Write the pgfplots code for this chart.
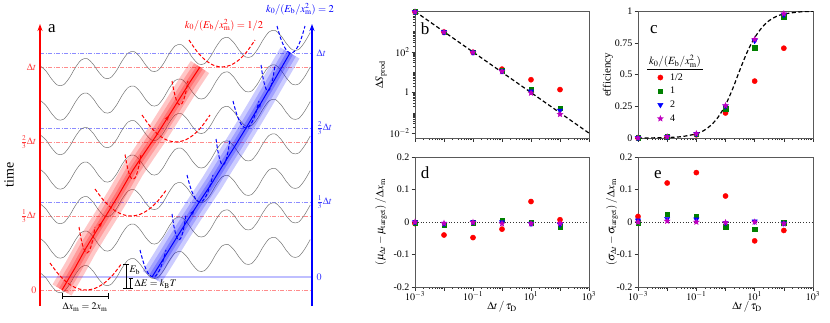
\documentclass[border=0pt]{standalone}
\usepackage{pgfplots}
\pgfplotsset{compat=1.18}
\usepackage{pgfplotstable}
\usepackage{mathptmx}
\usepackage{fontspec}
\setmainfont{Liberation Serif}
\usetikzlibrary{decorations.markings,arrows.meta,plotmarks}

\definecolor{mred}{rgb}{1,0,0}
\definecolor{mgreen}{rgb}{0,0.5,0}
\definecolor{mblue}{rgb}{0,0,1}
\definecolor{mmag}{rgb}{0.75,0,0.75}

% filled five-point star
\pgfdeclareplotmark{fstar}{%
  \pgfpathmoveto{\pgfpointpolar{90}{\pgfplotmarksize}}%
  \pgfpathlineto{\pgfpointpolar{126}{0.45\pgfplotmarksize}}%
  \pgfpathlineto{\pgfpointpolar{162}{\pgfplotmarksize}}%
  \pgfpathlineto{\pgfpointpolar{198}{0.45\pgfplotmarksize}}%
  \pgfpathlineto{\pgfpointpolar{234}{\pgfplotmarksize}}%
  \pgfpathlineto{\pgfpointpolar{270}{0.45\pgfplotmarksize}}%
  \pgfpathlineto{\pgfpointpolar{306}{\pgfplotmarksize}}%
  \pgfpathlineto{\pgfpointpolar{342}{0.45\pgfplotmarksize}}%
  \pgfpathlineto{\pgfpointpolar{18}{\pgfplotmarksize}}%
  \pgfpathlineto{\pgfpointpolar{54}{0.45\pgfplotmarksize}}%
  \pgfpathclose\pgfusepathqfill}

% one row of the landscape (x, offset from row baseline)
\pgfplotstableread{
x y
40 -11.34
45.875 -6.12
51.75 2.18
57.625 8.16
63.5 7.82
69.375 0.83
75.25 -9.23
81.125 -16.97
87 -18.39
92.875 -13.17
98.75 -4.87
104.625 1.11
110.5 0.77
116.375 -6.21
122.25 -16.27
128.125 -24.02
134 -25.44
139.875 -20.22
145.75 -11.92
151.625 -5.94
157.5 -6.28
163.375 -13.26
169.25 -23.32
175.125 -31.06
181 -32.48
186.875 -27.27
192.75 -18.97
198.625 -12.99
204.5 -13.33
210.375 -20.31
216.25 -30.37
222.125 -38.11
228 -39.53
233.875 -34.31
239.75 -26.01
245.625 -20.04
251.5 -20.38
257.375 -27.36
263.25 -37.42
269.125 -45.16
275 -46.58
280.875 -41.36
286.75 -33.06
292.625 -27.08
298.5 -27.42
304.375 -34.40
310.25 -44.46
}\wave

% trap shape (unit)
\pgfplotstableread{
u v
-1 1
-0.75 0.5625
-0.5 0.25
-0.25 0.0625
0 0
0.25 0.0625
0.5 0.25
0.75 0.5625
1 1
}\para

% mean paths
\pgfplotstableread{
x y
62 290
75 268
86 248
97 230
107 214
118 196
133 170
145 152
156 136
168 117
180 98
190 82
200 67
}\redpath
\pgfplotstableread{
x y
152 277
164 258
177 237
189 218
200 201
212 183
223 165
235 146
246 128
258 108
268 91
279 72
290 53
}\bluepath

\pgfplotsset{
  mr/.style={only marks, mark=*, mark size=2.6pt, color=mred},
  mg/.style={only marks, mark=square*, mark size=2.3pt, color=mgreen},
  mb/.style={only marks, mark=triangle*, mark size=3pt, color=mblue, mark options={rotate=180}},
  mm/.style={only marks, mark=fstar, mark size=3.6pt, color=mmag},
  trap/.style={dash pattern=on 3.5pt off 2pt, line width=1pt, smooth},
  band/.style={line cap=butt, line join=round},
}

\begin{document}
\begin{tikzpicture}
\path[use as bounding box] (0,0) rectangle (830pt,322pt);

% ---------------- panel a ----------------
\begin{axis}[at={(0pt,0pt)}, anchor=south west, scale only axis,
  width=330pt, height=322pt, xmin=0, xmax=330, ymin=0, ymax=322,
  y dir=reverse, axis lines=none, clip=false]
% time levels
\pgfplotsinvokeforeach{67,142,216,290}{
  \addplot[red!45, dash pattern=on 4pt off 1.5pt on 1pt off 1.5pt, line width=0.6pt] coordinates {(40,#1) (312,#1)};
}
\pgfplotsinvokeforeach{53,128,202}{
  \addplot[blue!45, dash pattern=on 4pt off 1.5pt on 1pt off 1.5pt, line width=0.6pt] coordinates {(40,#1) (312,#1)};
}
\addplot[blue!25, line width=1.8pt] coordinates {(40,277) (312,277)};
% landscape rows
\pgfplotsinvokeforeach{77,111.5,146,180.5,215,249.5,284}{
  \addplot[black!55, line width=0.5pt, smooth] table[x=x, y expr=\thisrow{y}+#1]{\wave};
}
% bands
\addplot[red, band, line width=22pt, draw opacity=0.22] table{\redpath};
\addplot[red, band, line width=13.6pt, draw opacity=0.22] table{\redpath};
\addplot[red, band, line width=6.8pt, draw opacity=0.25] table{\redpath};
\addplot[blue, band, line width=22pt, draw opacity=0.2] table{\bluepath};
\addplot[blue, band, line width=13.6pt, draw opacity=0.2] table{\bluepath};
\addplot[blue, band, line width=6.8pt, draw opacity=0.25] table{\bluepath};
% mean paths
\addplot[red, line width=1pt, postaction={decorate}, decoration={markings,
  mark=at position 0.3 with {\arrow{Stealth[length=5pt]}},
  mark=at position 0.78 with {\arrow{Stealth[length=5pt]}}}] table{\redpath};
\addplot[blue, line width=1pt, postaction={decorate}, decoration={markings,
  mark=at position 0.3 with {\arrow{Stealth[length=5pt]}},
  mark=at position 0.78 with {\arrow{Stealth[length=5pt]}}}] table{\bluepath};
% traps, k0 = 1/2
\addplot[red, trap] table[x expr=86+36*\thisrow{u}, y expr=290-27*\thisrow{v}]{\para};
\addplot[red, trap] table[x expr=131+36*\thisrow{u}, y expr=216-27*\thisrow{v}]{\para};
\addplot[red, trap] table[x expr=176+34*\thisrow{u}, y expr=142-27*\thisrow{v}]{\para};
\addplot[red, trap] table[x expr=222+33*\thisrow{u}, y expr=67-27*\thisrow{v}]{\para};
\addplot[red, trap] table[x expr=87+8*\thisrow{u}, y expr=253-26*\thisrow{v}]{\para};
\addplot[red, trap] table[x expr=133+8*\thisrow{u}, y expr=179.5-25*\thisrow{v}]{\para};
\addplot[red, trap] table[x expr=180+8*\thisrow{u}, y expr=105-24*\thisrow{v}]{\para};
% traps, k0 = 2
\addplot[blue, trap] table[x expr=153+13*\thisrow{u}, y expr=277-27*\thisrow{v}]{\para};
\addplot[blue, trap] table[x expr=200+13*\thisrow{u}, y expr=202-27*\thisrow{v}]{\para};
\addplot[blue, trap] table[x expr=246+13*\thisrow{u}, y expr=128-27*\thisrow{v}]{\para};
\addplot[blue, trap] table[x expr=291+14*\thisrow{u}, y expr=53-27*\thisrow{v}]{\para};
\addplot[blue, trap] table[x expr=179+7*\thisrow{u}, y expr=240-26*\thisrow{v}]{\para};
\addplot[blue, trap] table[x expr=223+7*\thisrow{u}, y expr=165-26*\thisrow{v}]{\para};
\addplot[blue, trap] table[x expr=268+7*\thisrow{u}, y expr=91-26*\thisrow{v}]{\para};
% time axes
\draw[red, line width=1.3pt, -{Stealth[length=7pt,width=5pt]}] (axis cs:40,306) -- (axis cs:40,24);
\draw[blue, line width=1.3pt, -{Stealth[length=7pt,width=5pt]}] (axis cs:312,306) -- (axis cs:312,24);
% scale bars
\draw[black, line width=0.9pt] (axis cs:62,296) -- (axis cs:108,296);
\draw[black, line width=0.9pt] (axis cs:62,293) -- (axis cs:62,299);
\draw[black, line width=0.9pt] (axis cs:108,293) -- (axis cs:108,299);
\draw[black, line width=0.9pt] (axis cs:126,264) -- (axis cs:126,288);
\draw[black, line width=0.9pt] (axis cs:123,264) -- (axis cs:129,264);
\draw[black, line width=0.9pt] (axis cs:123,288) -- (axis cs:129,288);
\draw[black, line width=0.9pt] (axis cs:130.5,278) -- (axis cs:130.5,288);
\draw[black, line width=0.9pt] (axis cs:128.5,278) -- (axis cs:132.5,278);
\draw[black, line width=0.9pt] (axis cs:128.5,288) -- (axis cs:132.5,288);
\end{axis}

% ---------------- panel b ----------------
\begin{axis}[xmode=log, ymode=log, at={(415pt,184pt)}, anchor=south west,
  scale only axis, width=174pt, height=127pt,
  xmin=1e-3, xmax=1e3, ymin=0.00575, ymax=1.05e4,
  axis line style={black!65, line width=0.6pt},
  tick style={black!80, line width=0.5pt},
  tick align=outside, xtick pos=bottom, ytick pos=left,
  major tick length=3.5pt, minor tick length=2pt,
  ticklabel style={font=\fontsize{10}{12}\selectfont},
  yticklabel style={xshift=1.5pt},
  xtick={1e-3,1e-2,1e-1,1,1e1,1e2,1e3}, xticklabels={},
  minor xtick={2e-3,3e-3,4e-3,5e-3,6e-3,7e-3,8e-3,9e-3,2e-2,3e-2,4e-2,5e-2,6e-2,7e-2,8e-2,9e-2,0.2,0.3,0.4,0.5,0.6,0.7,0.8,0.9,2,3,4,5,6,7,8,9,20,30,40,50,60,70,80,90,200,300,400,500,600,700,800,900},
  ytick={1e-2,1,1e2}, yticklabels={$10^{-2}$,$1$,$10^{2}$},
  minor ytick={2e-2,3e-2,4e-2,5e-2,6e-2,7e-2,8e-2,9e-2,0.1,0.2,0.3,0.4,0.5,0.6,0.7,0.8,0.9,2,3,4,5,6,7,8,9,10,20,30,40,50,60,70,80,90,200,300,400,500,600,700,800,900,1000,2000,3000,4000,5000,6000,7000,8000,9000}]
\addplot[black, line width=1.2pt, dash pattern=on 4pt off 2.5pt] coordinates {(1e-3,1e4) (1e3,1e-2)};
\addplot[mr] coordinates {(1e-3,9500) (1e-2,960) (1e-1,97) (1,14.3) (10,4.3) (100,1.4)};
\addplot[mg] coordinates {(1e-3,9500) (1e-2,950) (1e-1,96) (1,12) (10,1.4) (100,0.17)};
\addplot[mb] coordinates {(1e-3,9500) (1e-2,950) (1e-1,96) (1,11.5) (10,1.15) (100,0.13)};
\addplot[mm] coordinates {(1e-3,9500) (1e-2,950) (1e-1,95) (1,11) (10,0.95) (100,0.085)};
\end{axis}

% ---------------- panel c ----------------
\begin{axis}[xmode=log, at={(638pt,184pt)}, anchor=south west,
  scale only axis, width=175pt, height=127pt,
  xmin=1e-3, xmax=1e3, ymin=0, ymax=1,
  axis line style={black!65, line width=0.6pt},
  tick style={black!80, line width=0.5pt},
  tick align=outside, xtick pos=bottom, ytick pos=left,
  major tick length=3.5pt, minor tick length=2pt,
  ticklabel style={font=\fontsize{10}{12}\selectfont},
  yticklabel style={xshift=1.5pt},
  xtick={1e-3,1e-2,1e-1,1,1e1,1e2,1e3}, xticklabels={},
  minor xtick={2e-3,3e-3,4e-3,5e-3,6e-3,7e-3,8e-3,9e-3,2e-2,3e-2,4e-2,5e-2,6e-2,7e-2,8e-2,9e-2,0.2,0.3,0.4,0.5,0.6,0.7,0.8,0.9,2,3,4,5,6,7,8,9,20,30,40,50,60,70,80,90,200,300,400,500,600,700,800,900},
  ytick={0,0.25,0.5,0.75,1}, yticklabels={0,0.25,0.5,0.75,1},
  legend style={at={(axis description cs:0.09,0.535)}, anchor=north west,
    draw=none, fill=none, font=\fontsize{10}{12}\selectfont, row sep=3.2pt,
    nodes={inner sep=1.2pt}, /tikz/every odd column/.append style={column sep=5pt}},
  legend cell align=left]
\addplot[black, line width=1.2pt, dash pattern=on 4pt off 2.5pt, smooth, forget plot] coordinates {
  (1e-3,0.0003) (3.16e-3,0.001) (1e-2,0.0035) (3.16e-2,0.011) (1e-1,0.033)
  (1.78e-1,0.058) (3.16e-1,0.1) (5.62e-1,0.165) (1,0.26) (1.78,0.39) (3.16,0.54)
  (5.62,0.68) (10,0.79) (17.8,0.87) (31.6,0.925) (56.2,0.958) (100,0.976)
  (316,0.992) (1000,0.998)};
\addplot[mr] coordinates {(1e-3,0.001) (1e-2,0.008) (1e-1,0.025) (1,0.197) (10,0.448) (100,0.707)};
\addlegendentry{1/2}
\addplot[mg] coordinates {(1e-3,0.001) (1e-2,0.01) (1e-1,0.03) (1,0.233) (10,0.712) (100,0.953)};
\addlegendentry{1}
\addplot[mb] coordinates {(1e-3,0.001) (1e-2,0.01) (1e-1,0.033) (1,0.25) (10,0.765) (100,0.97)};
\addlegendentry{2}
\addplot[mm] coordinates {(1e-3,0.001) (1e-2,0.01) (1e-1,0.034) (1,0.255) (10,0.777) (100,0.979)};
\addlegendentry{4}
\end{axis}

% ---------------- panel d ----------------
\begin{axis}[xmode=log, at={(415pt,35pt)}, anchor=south west,
  scale only axis, width=174pt, height=130pt,
  xmin=1e-3, xmax=1e3, ymin=-0.2, ymax=0.2,
  axis line style={black!65, line width=0.6pt},
  tick style={black!80, line width=0.5pt},
  tick align=outside, xtick pos=bottom, ytick pos=left,
  major tick length=3.5pt, minor tick length=2pt,
  ticklabel style={font=\fontsize{10}{12}\selectfont},
  yticklabel style={xshift=1.5pt}, xticklabel style={yshift=2pt},
  xtick={1e-3,1e-2,1e-1,1,1e1,1e2,1e3},
  minor xtick={2e-3,3e-3,4e-3,5e-3,6e-3,7e-3,8e-3,9e-3,2e-2,3e-2,4e-2,5e-2,6e-2,7e-2,8e-2,9e-2,0.2,0.3,0.4,0.5,0.6,0.7,0.8,0.9,2,3,4,5,6,7,8,9,20,30,40,50,60,70,80,90,200,300,400,500,600,700,800,900},
  xticklabels={$10^{-3}$,,$10^{-1}$,,$10^{1}$,,$10^{3}$},
  ytick={-0.2,-0.1,0,0.1,0.2}, yticklabels={-0.2,-0.1,0,0.1,0.2}]
\addplot[black!80, dotted, line width=0.8pt] coordinates {(1e-3,0) (1e3,0)};
\addplot[mr] coordinates {(1e-3,-0.005) (1e-2,-0.04) (1e-1,-0.048) (1,-0.022) (10,0.063) (100,0.007)};
\addplot[mg] coordinates {(1e-3,-0.002) (1e-2,-0.008) (1e-1,-0.003) (1,0.005) (10,-0.002) (100,-0.015)};
\addplot[mb] coordinates {(1e-3,0) (1e-2,-0.005) (1e-1,0) (1,0) (10,-0.005) (100,-0.008)};
\addplot[mm] coordinates {(1e-3,0) (1e-2,-0.004) (1e-1,-0.001) (1,-0.005) (10,-0.005) (100,-0.004)};
\end{axis}

% ---------------- panel e ----------------
\begin{axis}[xmode=log, at={(638pt,35pt)}, anchor=south west,
  scale only axis, width=175pt, height=130pt,
  xmin=1e-3, xmax=1e3, ymin=-0.2, ymax=0.2,
  axis line style={black!65, line width=0.6pt},
  tick style={black!80, line width=0.5pt},
  tick align=outside, xtick pos=bottom, ytick pos=left,
  major tick length=3.5pt, minor tick length=2pt,
  ticklabel style={font=\fontsize{10}{12}\selectfont},
  yticklabel style={xshift=1.5pt}, xticklabel style={yshift=2pt},
  xtick={1e-3,1e-2,1e-1,1,1e1,1e2,1e3},
  minor xtick={2e-3,3e-3,4e-3,5e-3,6e-3,7e-3,8e-3,9e-3,2e-2,3e-2,4e-2,5e-2,6e-2,7e-2,8e-2,9e-2,0.2,0.3,0.4,0.5,0.6,0.7,0.8,0.9,2,3,4,5,6,7,8,9,20,30,40,50,60,70,80,90,200,300,400,500,600,700,800,900},
  xticklabels={$10^{-3}$,,$10^{-1}$,,$10^{1}$,,$10^{3}$},
  ytick={-0.2,-0.1,0,0.1,0.2}, yticklabels={-0.2,-0.1,0,0.1,0.2}]
\addplot[black!80, dotted, line width=0.8pt] coordinates {(1e-3,0) (1e3,0)};
\addplot[mr] coordinates {(1e-3,0.017) (1e-2,0.12) (1e-1,0.152) (1,0.08) (10,-0.058) (100,-0.026)};
\addplot[mg] coordinates {(1e-3,-0.003) (1e-2,0.024) (1e-1,0.018) (1,-0.015) (10,-0.022) (100,-0.003)};
\addplot[mb] coordinates {(1e-3,0.005) (1e-2,0.01) (1e-1,0.008) (1,-0.003) (10,0.002) (100,-0.004)};
\addplot[mm] coordinates {(1e-3,0) (1e-2,0.003) (1e-1,0) (1,-0.002) (10,0) (100,-0.005)};
\end{axis}

% ---------------- text ----------------
\begin{scope}[shift={(0,322pt)}, x=1pt, y=-1pt, every node/.style={inner sep=0.5pt}]
\node[font=\fontsize{17}{19}\selectfont] at (52,29) {a};
\node[font=\fontsize{14}{16}\selectfont, rotate=90] at (9,175) {time};
\node[red, font=\fontsize{10.5}{12}\selectfont] at (224,25) {$k_0/(E_\mathrm{b}/x_\mathrm{m}^2)=1/2$};
\node[blue, font=\fontsize{10.5}{12}\selectfont] at (300,9) {$k_0/(E_\mathrm{b}/x_\mathrm{m}^2)=2$};
\begin{scope}[font=\fontsize{10}{12}\selectfont]
\node[red!80, anchor=east] at (37,67) {$\Delta t$};
\node[red!80, anchor=east] at (37,142) {$\frac{2}{3}\Delta t$};
\node[red!80, anchor=east] at (37,216) {$\frac{1}{3}\Delta t$};
\node[red!80, anchor=east] at (37,290) {$0$};
\node[blue!80, anchor=west] at (316,53) {$\Delta t$};
\node[blue!80, anchor=west] at (316,128) {$\frac{2}{3}\Delta t$};
\node[blue!80, anchor=west] at (316,202) {$\frac{1}{3}\Delta t$};
\node[blue!80, anchor=west] at (316,277) {$0$};
\node at (85,307) {$\Delta x_\mathrm{m}=2x_\mathrm{m}$};
\node[anchor=west] at (129,270) {$E_\mathrm{b}$};
\node[anchor=west] at (134,284) {$\Delta E=k_\mathrm{B}T$};
\end{scope}
\begin{scope}[font=\fontsize{17}{19}\selectfont]
\node at (425,29) {b};
\node at (654,30) {c};
\node at (425,173) {d};
\node at (658,175) {e};
\end{scope}
\begin{scope}[font=\fontsize{11}{13}\selectfont]
\node[rotate=90] at (381,75) {$\Delta S_\mathrm{prod}$};
\node[rotate=90] at (608,75) {efficiency};
\node[rotate=90] at (381,222) {$(\mu_{\Delta t}-\mu_\mathrm{target})\,/\,\Delta x_\mathrm{m}$};
\node[rotate=90] at (612,222) {$(\sigma_{\Delta t}-\sigma_\mathrm{target})\,/\,\Delta x_\mathrm{m}$};
\node at (502,307) {$\Delta t\,/\,\tau_\mathrm{D}$};
\node at (747,307) {$\Delta t\,/\,\tau_\mathrm{D}$};
\node at (675,61) {$k_0/(E_\mathrm{b}/x_\mathrm{m}^2)$};
\end{scope}
\draw[black, line width=0.6pt] (647,69) -- (703,69);
\end{scope}
\end{tikzpicture}
\end{document}
